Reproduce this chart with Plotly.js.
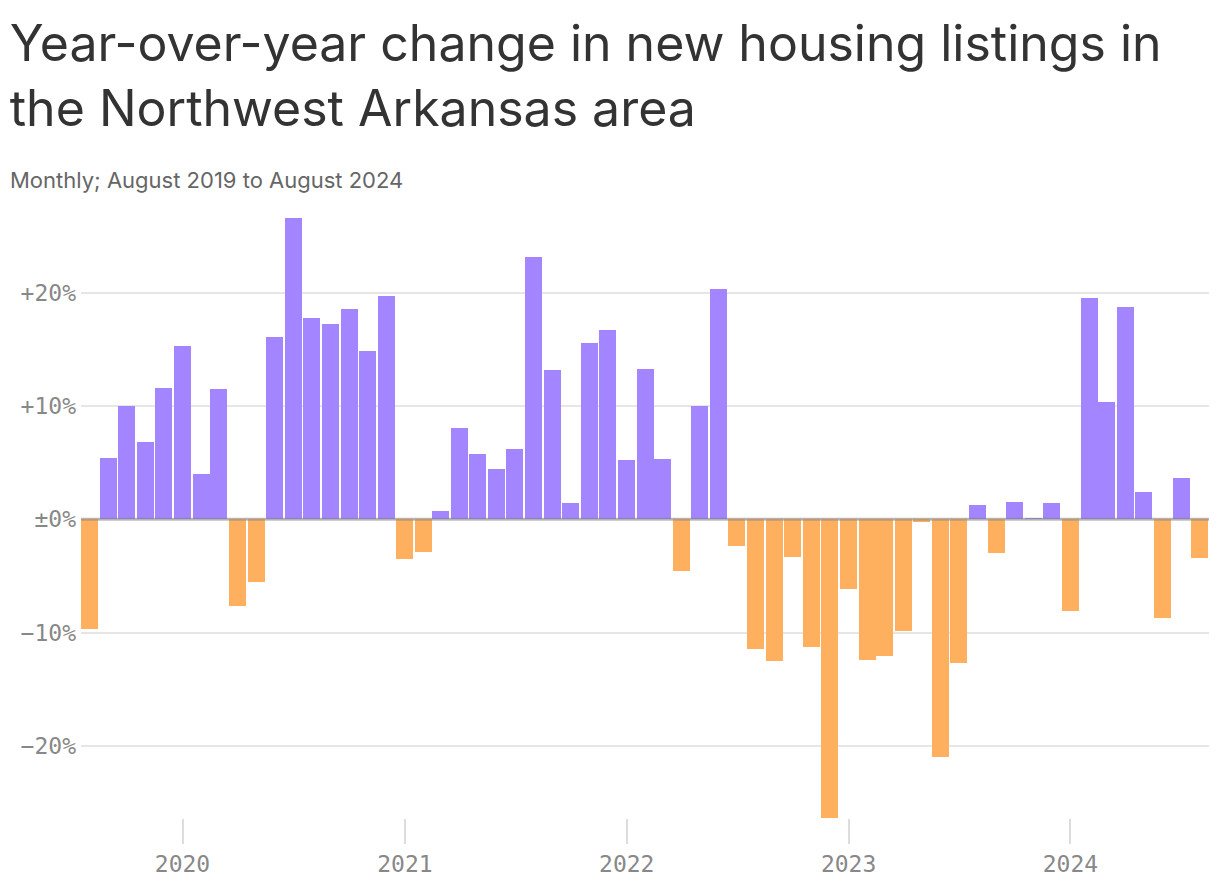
<!DOCTYPE html>
<html>
<head>
<meta charset="utf-8">
<script src="https://cdn.plot.ly/plotly-3.0.1.min.js"></script>
<style>
  html, body { margin: 0; padding: 0; background: #fff; }
  #chart { width: 1220px; height: 892px; }
</style>
</head>
<body>
<div id="chart"></div>
<script>
// Months (first of month)
const months = [
  '2019-08-01','2019-09-01','2019-10-01','2019-11-01','2019-12-01',
  '2020-01-01','2020-02-01','2020-03-01','2020-04-01','2020-05-01','2020-06-01',
  '2020-07-01','2020-08-01','2020-09-01','2020-10-01','2020-11-01','2020-12-01',
  '2021-01-01','2021-02-01','2021-03-01','2021-04-01','2021-05-01','2021-06-01',
  '2021-07-01','2021-08-01','2021-09-01','2021-10-01','2021-11-01','2021-12-01',
  '2022-01-01','2022-02-01','2022-03-01','2022-04-01','2022-05-01','2022-06-01',
  '2022-07-01','2022-08-01','2022-09-01','2022-10-01','2022-11-01','2022-12-01',
  '2023-01-01','2023-02-01','2023-03-01','2023-04-01','2023-05-01','2023-06-01',
  '2023-07-01','2023-08-01','2023-09-01','2023-10-01','2023-11-01','2023-12-01',
  '2024-01-01','2024-02-01','2024-03-01','2024-04-01','2024-05-01','2024-06-01',
  '2024-07-01','2024-08-01'
];

// Year-over-year change in new listings, %
const yoyChange = [
  -9.7, 5.4, 10.0, 6.8, 11.6,
  15.3, 4.0, 11.5, -7.7, -5.5, 16.1,
  26.6, 17.8, 17.2, 18.6, 14.9, 19.7,
  -3.5, -2.9, 0.75, 8.1, 5.8, 4.45,
  6.2, 23.15, 13.2, 1.4, 15.55, 16.7,
  5.25, 13.25, 5.35, -4.6, 10.0, 20.3,
  -2.35, -11.5, -12.55, -3.3, -11.3, -26.35,
  -6.15, -12.4, -12.1, -9.9, -0.25, -21.0,
  -12.7, 1.3, -2.95, 1.55, 0.1, 1.45,
  -8.1, 19.5, 10.35, 18.7, 2.4, -8.75,
  3.65, -3.4
];

const yTickVals = [-20, -10, 0, 10, 20];
const yTickText = ['\u221220%', '\u221210%', '\u00b10%', '+10%', '+20%'];
const xTickVals = ['2020-01-01', '2021-01-01', '2022-01-01', '2023-01-01', '2024-01-01'];
const xTickText = ['2020', '2021', '2022', '2023', '2024'];

const POS = '#a385ff';
const NEG = '#ffb05f';
const barColors = yoyChange.map(v => v >= 0 ? POS : NEG);

const trace = {
  type: 'bar',
  x: months,
  y: yoyChange,
  marker: { color: barColors, line: { width: 0 } },
  hoverinfo: 'x+y'
};

const monoFont = { family: 'DejaVu Sans Mono, monospace', size: 23, color: '#888888' };

const layout = {
  width: 1220,
  height: 892,
  paper_bgcolor: '#ffffff',
  plot_bgcolor: '#ffffff',
  margin: { l: 81, r: 11, t: 218, b: 74 },
  bargap: 0,
  showlegend: false,
  title: {
    text: 'Year-over-year change in new housing listings in<br>the Northwest Arkansas area',
    font: { family: 'Inter, Lato, sans-serif', size: 50, color: '#333333' },
    x: 0.008, xanchor: 'left', xref: 'container',
    y: 0.932, yanchor: 'top', yref: 'container'
  },
  annotations: [{
    text: 'Monthly; August 2019 to August 2024',
    xref: 'paper', yref: 'paper', x: -0.0647, y: 1.0 + (218 - 180) / 600,
    xanchor: 'left', yanchor: 'middle', showarrow: false,
    font: { family: 'Inter, Lato, sans-serif', size: 22, color: '#666666' }
  }],
  xaxis: {
    type: 'date',
    range: ['2019-07-18', '2024-08-16'],
    tickvals: xTickVals,
    ticktext: xTickText,
    ticks: 'outside',
    ticklen: 25,
    tickwidth: 2,
    tickcolor: '#dddddd',
    showgrid: false,
    zeroline: false,
    showline: false,
    tickfont: monoFont,
    fixedrange: true
  },
  yaxis: {
    range: [-26.38, 26.6],
    tickvals: yTickVals,
    ticktext: yTickText,
    showgrid: true,
    gridcolor: '#e6e6e6',
    gridwidth: 2,
    zeroline: false,
    showline: false,
    ticks: '',
    tickfont: monoFont,
    ticklabelstandoff: 4,
    fixedrange: true
  },
  shapes: [{
    type: 'line', xref: 'paper', yref: 'y',
    x0: 0, x1: 1, y0: 0, y1: 0,
    line: { color: 'rgba(128,128,128,0.5)', width: 3 },
    layer: 'above'
  }]
};

Plotly.newPlot('chart', [trace], layout, { displayModeBar: false, staticPlot: true });
</script>
</body>
</html>
